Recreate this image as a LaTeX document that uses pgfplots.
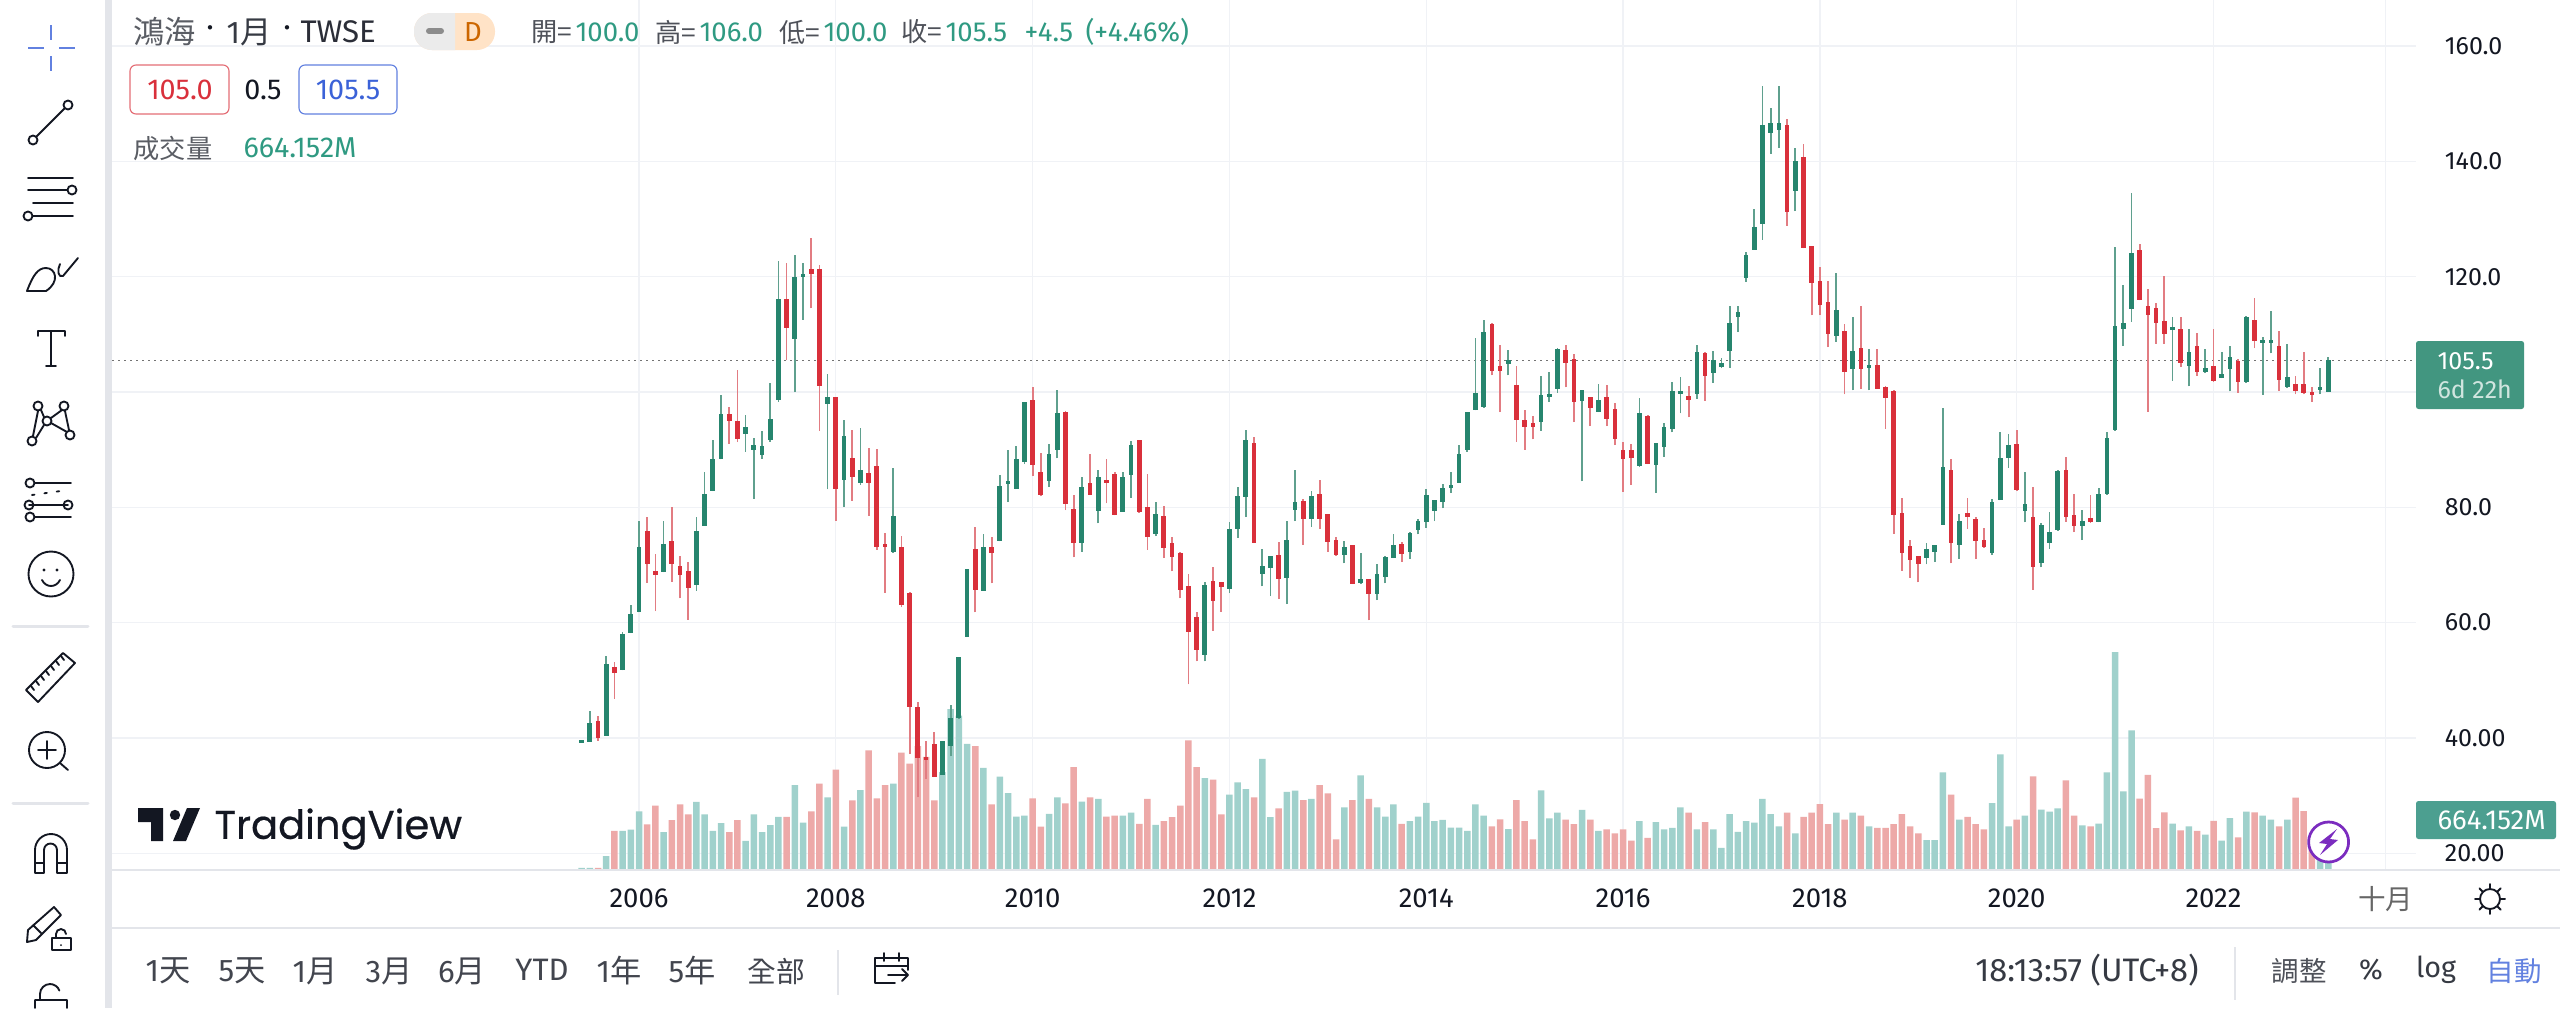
\documentclass[border=0pt]{standalone}
\usepackage{pgfplots}
\usepackage{pgfplotstable}
\pgfplotsset{compat=1.18}
\usepackage{fontspec}
\setmainfont{Fira Sans}
\newfontfamily\cjk{Noto Sans CJK TC}
\newfontfamily\tvfont[FakeBold=0.5]{Poppins}
\definecolor{upB}{HTML}{26856E}
\definecolor{upW}{HTML}{5FA08E}
\definecolor{dnB}{HTML}{D9303B}
\definecolor{dnW}{HTML}{E27C82}
\definecolor{upV}{HTML}{A0D1CC}
\definecolor{dnV}{HTML}{EDA9A8}
\definecolor{gridc}{HTML}{F0F2F6}
\definecolor{sepc}{HTML}{E3E5EA}
\definecolor{ink}{HTML}{131722}
\definecolor{tagG}{HTML}{429680}
\definecolor{tagV}{HTML}{4C9F90}
\definecolor{valG}{HTML}{2F9A82}
\definecolor{uiblue}{HTML}{3B62D8}
\definecolor{purp}{HTML}{7B2CBF}
\newcommand{\fs}[1]{\fontsize{#1}{#1}\selectfont}
\pgfplotstableread{
m o h l c v
-7 39.2 39.7 39.2 39.6 30
-6 39.3 44.7 39.3 42.6 30
-5 42.9 43.8 39.5 40.0 30
-4 40.4 54.3 40.4 52.8 192
-3 52.3 53.2 46.8 51.3 540
-2 51.7 58.4 51.7 58.0 540
-1 58.2 63.0 58.2 61.5 558
0 61.8 77.7 61.8 73.2 810
1 75.9 78.4 66.9 70.1 630
2 69.0 71.9 62.0 68.3 888
3 68.7 77.6 68.7 73.7 522
4 74.2 80.0 67.1 70.1 690
5 69.9 71.6 64.2 68.2 906
6 69.0 70.6 60.5 66.0 768
7 66.5 78.3 65.5 75.9 942
8 76.8 86.1 76.8 82.4 768
9 82.8 91.6 82.8 88.3 540
10 88.3 99.4 88.3 96.2 648
11 96.2 97.4 91.0 94.9 522
12 94.9 103.9 91.3 91.9 690
13 92.7 96.1 89.6 94.0 402
14 89.9 92.0 81.5 90.9 768
15 89.0 93.3 88.4 90.6 522
16 91.7 101.5 91.4 95.4 618
17 98.6 122.8 98.3 116.2 732
18 116.2 122.4 105.5 111.1 732
19 109.2 123.7 100.0 120.0 1170
20 119.9 122.4 112.5 120.5 654
21 121.3 126.8 114.5 120.4 810
22 121.3 122.0 93.3 101.0 1194
23 98.0 103.1 83.1 99.1 1002
24 99.1 99.1 77.7 83.1 1386
25 84.8 95.2 80.1 92.3 600
26 88.6 93.5 81.1 85.2 960
27 84.3 93.7 83.9 86.5 1104
28 86.0 90.3 78.5 84.3 1650
29 87.2 90.2 72.6 73.1 990
30 73.5 75.5 65.2 73.2 1170
31 72.3 86.9 72.1 78.5 1194
32 73.1 75.0 62.7 63.0 1620
33 65.2 65.3 37.2 45.3 1470
34 45.3 46.2 29.7 36.5 1710
35 36.6 39.5 32.9 36.3 1560
36 38.9 41.0 33.2 33.3 960
37 33.6 39.5 33.6 39.5 1350
38 38.6 45.8 36.8 43.4 2220
39 43.4 54.0 43.2 54.0 2130
40 57.5 69.3 57.5 69.3 1740
41 72.8 76.6 61.8 65.6 1710
42 65.5 75.3 65.5 73.2 1410
43 73.2 74.9 66.8 72.0 906
44 74.1 85.6 74.1 83.7 1290
45 84.3 89.9 80.9 84.4 1062
46 83.1 90.6 83.1 88.3 738
47 87.9 98.3 87.5 98.3 750
48 98.6 100.8 85.4 87.4 990
49 86.1 89.4 81.9 82.2 600
50 84.5 90.9 83.6 89.2 774
51 89.9 100.3 88.5 96.4 1002
52 96.6 96.7 79.5 80.6 921
53 79.7 82.1 71.3 73.8 1420
54 73.8 85.3 72.3 83.6 945
55 84.3 89.2 82.1 82.1 1002
56 79.3 86.5 77.2 85.3 983
57 84.6 88.3 80.7 84.3 736
58 85.8 86.1 78.6 78.7 750
59 79.2 86.1 79.2 85.3 750
60 85.6 91.5 81.7 90.8 793
61 91.7 91.7 79.1 79.2 636
62 80.0 85.8 72.6 74.8 983
63 75.3 81.0 75.0 78.8 622
64 78.5 80.3 71.2 72.9 674
65 73.8 74.9 68.9 71.3 731
66 72.0 72.2 64.2 65.6 888
67 66.3 68.4 49.3 58.3 1790
68 61.0 61.9 53.3 55.2 1420
69 54.4 67.1 53.3 66.6 1268
70 67.2 69.7 58.6 63.7 1249
71 67.0 67.1 61.9 66.2 769
72 65.8 77.4 65.1 76.2 1040
73 76.3 83.6 74.7 81.9 1211
74 81.8 93.5 78.3 91.6 1116
75 91.1 92.2 73.8 73.8 1002
76 68.5 72.8 66.3 69.8 1534
77 69.5 71.6 64.6 71.6 731
78 71.8 74.0 64.1 67.5 850
79 67.8 77.6 63.2 74.4 1078
80 79.5 86.5 77.6 81.0 1097
81 81.1 81.4 73.5 77.9 964
82 77.9 82.9 76.6 82.0 983
83 82.4 84.7 76.2 77.9 1173
84 78.9 78.9 72.3 74.0 1059
85 74.3 74.9 71.6 71.7 423
86 71.7 74.1 70.3 73.2 864
87 73.4 73.5 66.7 66.7 964
88 67.0 72.0 66.7 67.5 1306
89 67.5 67.6 60.4 64.9 983
90 64.9 70.1 63.9 68.5 864
91 68.0 71.6 66.8 71.3 736
92 71.2 75.4 71.2 73.5 907
93 73.7 74.0 70.6 71.9 636
94 72.3 75.8 71.0 75.5 674
95 76.0 78.0 75.3 77.6 736
96 77.4 83.1 76.5 82.2 926
97 79.4 81.3 77.6 81.2 674
98 80.9 84.1 79.8 83.4 693
99 83.5 86.1 82.5 83.8 584
100 84.2 90.8 84.2 89.3 584
101 89.9 96.6 89.6 96.6 541
102 96.9 109.3 96.8 99.9 907
103 97.4 112.5 97.3 110.5 750
104 111.8 112.0 102.9 103.7 603
105 104.6 108.2 96.5 103.7 698
106 105.0 107.3 102.9 105.4 565
107 101.2 104.6 91.4 95.1 964
108 95.2 96.9 90.0 93.9 676
109 94.4 95.8 91.8 94.2 422
110 94.8 102.8 93.3 99.4 1098
111 99.3 103.5 98.3 99.5 713
112 100.6 107.6 99.9 107.4 792
113 107.3 108.1 100.8 105.0 697
114 105.7 106.6 94.8 98.3 634
115 98.4 100.4 84.5 100.3 829
116 99.1 99.1 94.1 97.3 697
117 96.6 101.4 96.5 98.6 539
118 99.1 101.3 94.1 95.4 560
119 97.0 98.1 90.8 91.8 507
120 90.0 91.4 82.7 88.4 560
121 90.0 91.0 83.9 88.6 407
122 87.2 98.9 87.0 96.4 676
123 95.9 96.0 87.5 87.6 444
124 87.4 91.1 82.5 91.1 660
125 90.5 94.7 88.8 93.9 560
126 93.6 101.8 93.0 100.1 581
127 99.8 102.6 96.3 100.0 866
128 99.1 101.1 95.6 98.8 792
129 99.6 108.1 98.8 106.9 560
130 106.8 107.0 98.5 102.7 660
131 103.3 107.2 101.6 105.6 560
132 104.5 105.9 104.1 104.8 306
133 107.2 114.9 104.2 112.0 771
134 113.1 114.9 110.4 113.9 528
135 119.7 124.3 119.1 123.7 676
136 124.7 131.8 124.7 128.7 655
137 129.2 153.0 126.4 146.3 982
138 145.0 149.3 141.3 146.7 771
139 145.4 153.0 142.4 146.7 602
140 146.3 147.4 128.8 131.2 792
141 134.8 142.4 131.4 140.0 507
142 140.7 143.1 124.9 124.9 734
143 125.3 125.4 113.3 118.9 792
144 119.3 121.7 113.3 115.1 908
145 115.6 119.3 107.8 110.0 634
146 109.7 120.7 108.7 114.2 792
147 110.6 111.8 99.6 103.5 697
148 104.0 113.0 100.3 107.2 792
149 107.7 115.0 100.5 104.0 750
150 104.1 107.5 100.3 104.7 602
151 104.7 107.5 100.5 100.6 581
152 100.9 101.0 93.6 98.9 581
153 100.1 100.3 75.4 78.7 634
154 79.0 81.7 69.0 72.0 771
155 73.3 74.4 67.8 70.8 602
156 71.5 71.6 67.0 70.1 507
157 71.2 73.9 70.1 72.8 412
158 72.3 73.5 70.5 73.4 412
159 77.0 97.3 77.0 87.0 1346
160 86.5 88.4 70.3 73.8 1040
161 73.4 78.8 71.1 77.6 697
162 78.7 81.7 76.3 78.6 734
163 77.9 78.4 71.0 74.1 634
164 74.4 76.4 73.0 73.1 560
165 72.1 81.4 71.8 80.9 924
166 81.2 93.0 81.2 88.6 1595
167 88.5 92.8 86.9 90.8 604
168 91.0 93.4 82.8 83.0 696
169 79.3 86.2 77.4 80.5 752
170 78.3 83.6 65.7 69.7 1294
171 70.4 77.2 69.6 77.0 832
172 73.8 79.2 72.8 75.8 807
173 76.0 86.5 75.9 86.3 850
174 86.5 88.7 77.5 78.4 1238
175 78.6 82.4 75.7 76.7 752
176 76.7 79.6 74.3 77.6 616
177 78.2 82.2 77.3 77.5 604
178 77.5 83.3 77.4 82.4 641
179 82.3 93.0 82.2 92.1 1349
180 93.4 125.1 93.3 111.5 3006
181 110.9 118.6 108.0 112.0 1084
182 114.4 134.5 112.2 124.1 1928
183 124.6 125.6 115.9 116.0 986
184 115.0 117.8 96.6 113.3 1312
185 114.5 115.4 108.4 111.9 579
186 112.4 120.1 108.4 110.0 795
187 111.0 113.0 102.0 111.1 641
188 111.0 113.0 104.3 105.0 548
189 104.5 111.0 101.0 107.0 604
190 108.0 110.2 102.8 103.4 542
191 103.5 107.5 103.3 104.1 487
192 104.5 111.0 101.8 101.9 678
193 102.6 107.0 102.4 103.0 407
194 104.0 108.0 100.1 106.1 715
195 105.3 105.8 99.9 101.8 450
196 101.8 113.2 101.6 113.0 807
197 112.5 116.3 107.6 108.8 795
198 108.6 109.5 99.5 108.9 752
199 108.5 114.0 106.7 109.1 696
200 108.0 110.6 100.2 102.1 604
201 100.8 108.4 100.7 102.6 696
202 101.4 102.7 99.6 100.2 998
203 101.4 107.0 99.6 99.8 813
204 99.9 100.9 98.3 99.5 345
205 100.4 104.2 99.6 100.9 283
206 100.0 106.0 100.0 105.5 664.152
}\candles
\pgfplotsset{
  chartbox/.style={at={(44.8pt,-348pt)},anchor=south west,scale only axis,width=921.6pt,height=348pt,
    xmin=-64.27,xmax=216.7,clip=true},
}
\newcommand{\wicks}[2]{\addplot[draw=none,mark=none,forget plot,
   error bars/.cd,y dir=plus,y explicit,error mark=none,
   error bar style={draw=#1,line width=0.68pt}]
   table[x=m,y expr={#2?\thisrow{l}:nan},y error plus expr={\thisrow{h}-\thisrow{l}}]{\candles};}
\newcommand{\bodies}[2]{\addplot[draw=none,mark=none,forget plot,
   error bars/.cd,y dir=both,y explicit,error mark=none,
   error bar style={draw=#1,line width=1.9pt}]
   table[x=m,y expr={#2?(\thisrow{o}+\thisrow{c})/2:nan},y error expr={max(abs(\thisrow{c}-\thisrow{o})/2,0.3)}]{\candles};}
\begin{document}
\begin{tikzpicture}[x=0.4pt,y=-0.4pt,line join=round,line cap=round]
\path[use as bounding box,fill=white] (0,0) rectangle (2560,1008);
% grid + axis labels
\begin{axis}[chartbox,ymin=17.09,ymax=168.0,
  axis line style={draw=none},major tick length=0pt,
  grid=major,grid style={gridc,line width=0.5pt},
  xtick={0,24,48,72,96,120,144,168,192,213},
  xticklabels={2006,2008,2010,2012,2014,2016,2018,2020,2022,{\color{black!60}\cjk 十月}},
  ytick={20,40,60,80,100,120,140,160},
  yticklabels={20.00,40.00,60.0,80.0,{},120.0,140.0,160.0},
  yticklabel pos=right,
  /pgf/number format/assume math mode=true,
  x tick label style={font=\fs{11},text=ink,anchor=center,yshift=-11.5pt},
  y tick label style={font=\fs{10},text=ink,anchor=west,xshift=8pt},
]
\end{axis}
% volume
\begin{axis}[chartbox,hide axis,ymin=0,ymax=12006,ybar,bar shift=0pt,bar width=2.6pt]
\addplot[draw=none,fill=upV,forget plot] table[x=m,y expr={\thisrow{c}>=\thisrow{o}?\thisrow{v}:nan}]{\candles};
\addplot[draw=none,fill=dnV,forget plot] table[x=m,y expr={\thisrow{c}<\thisrow{o}?\thisrow{v}:nan}]{\candles};
\end{axis}
% candles
\begin{axis}[chartbox,hide axis,ymin=17.09,ymax=168.0]
\addplot[forget plot,black!55,line width=0.4pt,dash pattern=on 0.8pt off 1.6pt] coordinates {(-64.27,105.5) (216.7,105.5)};
\wicks{upW}{\thisrow{c}>=\thisrow{o}}
\wicks{dnW}{\thisrow{c}<\thisrow{o}}
\bodies{upB}{\thisrow{c}>=\thisrow{o}}
\bodies{dnB}{\thisrow{c}<\thisrow{o}}
\end{axis}
% frame lines
\fill[sepc] (105,0) rectangle (112,1008);
\draw[sepc,line width=0.5pt,line cap=butt] (112,870)--(2560,870);
\draw[sepc,line width=0.5pt,line cap=butt] (112,928)--(2560,928);
\draw[sepc,line width=0.5pt,line cap=butt] (838,950)--(838,995);
\draw[sepc,line width=0.5pt,line cap=butt] (2235,947)--(2235,1000);
% price tags
\fill[tagG,rounded corners=1pt] (2416,341)--(2524,341)--(2524,409)--(2416,409)--cycle;
\node[anchor=west,inner sep=0,text=white,font=\fs{10}] at (2437,361) {105.5};
\node[anchor=west,inner sep=0,text=white!75!tagG,font=\fs{10}] at (2437,389) {6d 22h};
\fill[tagV,rounded corners=1pt] (2416,801)--(2556,801)--(2556,839)--(2416,839)--cycle;
\node[anchor=west,inner sep=0,text=white,font=\fs{11}] at (2437,820) {664.152M};
% legend top
\node[anchor=west,inner sep=0,text=ink!70,font=\cjk\fs{12.5}] at (133,32) {鴻海};
\node[inner sep=0,text=ink,font=\fs{12.5}] at (210,32) {·};
\node[anchor=west,inner sep=0,text=ink!85,font=\fs{12.5}] at (226,32) {1{\cjk 月}};
\node[inner sep=0,text=ink,font=\fs{12.5}] at (287,32) {·};
\node[anchor=west,inner sep=0,text=ink!90,font=\fs{12.5}] at (300,32) {TWSE};
\fill[orange!22,rounded corners=7.2pt] (414,13) rectangle (495,50);
\begin{scope}
\clip (410,5) rectangle (455,60);
\fill[black!8,rounded corners=7.2pt] (414,13) rectangle (495,50);
\end{scope}
\draw[black!45,line width=2.4pt] (429,31)--(441,31);
\node[inner sep=0,text=orange!80!black,font=\fs{11}] at (473,32) {D};
\foreach \xx/\tt in {531/開,655/高,779/低,901/收}{\node[anchor=west,inner sep=0,text=ink!75,font=\cjk\fs{10.5}] at (\xx,32) {\tt=};}
\foreach \xx/\tt in {575/100.0,699/106.0,823/100.0,945/105.5,1024/+4.5,1085/(+4.46\%)}{\node[anchor=west,inner sep=0,text=valG,font=\fs{11}] at (\xx,32) {\tt};}
\draw[dnB!70,line width=0.45pt,rounded corners=2.4pt] (130,65) rectangle (229,114);
\node[inner sep=0,text=dnB,font=\fs{11.5}] at (180,90) {105.0};
\node[inner sep=0,text=ink,font=\fs{11.5}] at (263,90) {0.5};
\draw[uiblue!80,line width=0.45pt,rounded corners=2.4pt] (299,65) rectangle (397,114);
\node[inner sep=0,text=uiblue,font=\fs{11.5}] at (348,90) {105.5};
\node[anchor=west,inner sep=0,text=ink!70,font=\cjk\fs{10.5}] at (133,148) {成交量};
\node[anchor=west,inner sep=0,text=valG,font=\fs{11.5}] at (243,148) {664.152M};
% TradingView mark
\fill[ink] (138,808)--(163,808)--(163,841)--(151,841)--(151,822)--(138,822)--cycle;
\fill[ink] (175,815) circle (5.2);
\fill[ink] (200,808)--(186,841)--(173,841)--(187,808)--cycle;
\node[anchor=west,inner sep=0,text=ink,font=\tvfont\fs{16}] at (214,829) {TradingView};
% lightning badge
\draw[purp,line width=1.1pt,fill=white] (2328.6,842) circle (20);
\fill[purp] (2337,829)--(2319,843)--(2327,844)--(2320,855)--(2338,840)--(2330,839)--cycle;
% bottom bar
\foreach \xx/\aa/\bb in {168/1/天,242/5/天,315/1/月,389/3/月,462/6/月,619/1/年,692/5/年}{
  \node[inner sep=0,text=ink!80,font=\fs{12.5}] at (\xx,971) {\aa{\cjk\bb}};}
\node[inner sep=0,text=ink!80,font=\fs{12.4}] at (542,970) {YTD};
\node[inner sep=0,text=ink!80,font=\cjk\fs{11.5}] at (776,971) {全部};
\node[inner sep=0,text=ink!85,font=\fs{13}] at (2087,970) {18:13:57 (UTC+8)};
\node[inner sep=0,text=ink!75,font=\cjk\fs{11}] at (2299,971) {調整};
\node[inner sep=0,text=ink!85,font=\fs{11.5}] at (2371,970) {\%};
\node[inner sep=0,text=ink!85,font=\fs{11.5}] at (2436,970) {log};
\node[inner sep=0,text=uiblue!80,font=\cjk\fs{11}] at (2514,971) {自動};
% calendar icon
\draw[ink,line width=0.75pt] (908,970)--(908,958)--(875,958)--(875,983)--(895,983);
\draw[ink,line width=0.75pt] (875,966)--(908,966) (884,953)--(884,961) (899,953)--(899,961);
\draw[ink,line width=0.75pt] (888,975)--(908,975) (902,969)--(908,975)--(902,981);
% sun icon
\draw[ink,line width=0.75pt] (2490,899) circle (10);
\foreach \a in {0,45,...,315}{\draw[ink,line width=0.75pt] ({2490+11*cos(\a)},{899+11*sin(\a)})--({2490+15*cos(\a)},{899+15*sin(\a)});}
% left toolbar
\begin{scope}[ink,line width=0.75pt,draw=ink]
\draw[uiblue!80,line width=0.8pt,line cap=butt] (51,25)--(51,40) (51,56)--(51,71) (28,48)--(44,48) (59,48)--(75,48);
\draw (36,137)--(65,108);\draw (33,140) circle (4.5);\draw (68,105) circle (4.5);
\draw (28,178)--(73,178) (28,190)--(67,190) (33,203)--(73,203) (33,216)--(73,216);
\draw (72,190) circle (4.5) (28,216) circle (4.5);
\draw (27,291) .. controls (33,275) and (38,268) .. (46,268) .. controls (56,268) and (60,282) .. (46,291) -- cycle;
\draw (78,258)--(63,276) .. controls (58,278) and (57,270) .. (60,264);
\draw (38,336)--(38,331)--(65,331)--(65,336) (51,331)--(51,366) (46,366)--(56,366);
\draw (38,406) circle (4.5) (64,406) circle (4.5) (32,441) circle (4.5) (70,435) circle (4.5) (47,421) circle (4.5);
\draw (38,411)--(33,436) (36,438)--(44,425) (41,410)--(44,417) (62,410)--(51,418) (65,411)--(69,430) (67,432)--(51,423);
\draw (35,483)--(71,483) (29,505)--(68,505) (35,517)--(71,517);
\draw (30,483) circle (4.5) (29,505) circle (4.5) (68,505) circle (4.5) (30,517) circle (4.5);
\draw[dash pattern=on 1pt off 4pt] (32,495)--(68,490);
\draw (51,574) circle (22.5);
\fill (44,570) circle (1.6) (57,570) circle (1.6);
\draw (42,580) .. controls (46,588) and (56,588) .. (60,580);
\draw (26,690)--(63,653)--(75,663)--(38,702)--cycle;
\foreach \i in {0,1,...,6}{\draw ({31+5*\i},{686-5*\i})--({34+5*\i},{690-5*\i});}
\draw (47,750) circle (18);
\draw (60,763)--(68,770) (47,741)--(47,759) (38,750)--(56,750);
\draw (35,873)--(35,850) arc (180:360:16) --(67,873)--(57,873)--(57,850) arc (0:-180:6.5) --(44,873)--cycle (35,863)--(44,863) (57,863)--(67,863);
\draw (28,930)--(54,907)--(61,915)--(36,940)--(27,942)--cycle (33,925)--(41,933);
\draw[fill=white] (52,938) rectangle (71,950);
\draw (56,938)--(56,934) arc (180:360:5);
\fill (61,945) circle (1);
\draw (35,1008)--(35,1000)--(67,1000)--(67,1008) (40,1000)--(40,994) arc (180:340:10);
\end{scope}
\draw[sepc,line width=1.2pt] (13,626)--(88,626) (13,803)--(88,803);
\end{tikzpicture}
\end{document}
